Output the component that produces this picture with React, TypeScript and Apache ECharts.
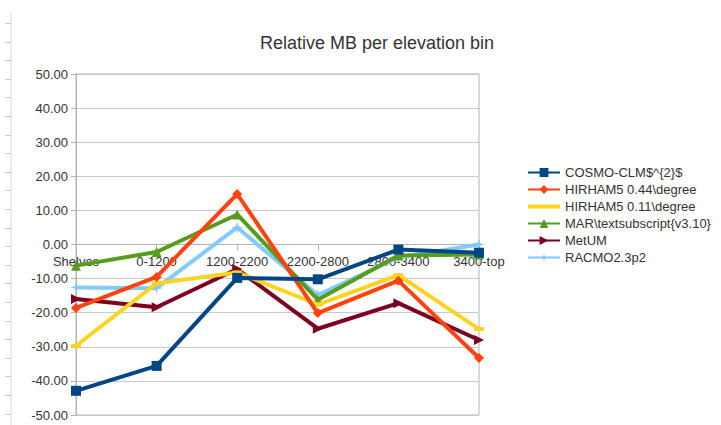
import React, { useEffect, useRef } from "react";
import * as echarts from "echarts";

const categories = ["Shelves", "0-1200", "1200-2200", "2200-2800", "2800-3400", "3400-top"];
const seriesNames = [
  "COSMO-CLM$^{2}$",
  "HIRHAM5 0.44\\degree",
  "HIRHAM5 0.11\\degree",
  "MAR\\textsubscript{v3.10}",
  "MetUM",
  "RACMO2.3p2",
];
const cosmo = [-42.9, -35.6, -9.8, -10.2, -1.5, -2.4];
const hirham044 = [-18.6, -9.5, 14.8, -20.1, -10.6, -33.3];
const hirham011 = [-29.7, -11.4, -8.2, -17.6, -9.0, -24.8];
const mar = [-6.2, -2.2, 8.8, -16.2, -3.2, -2.9];
const metum = [-16.0, -18.4, -7.2, -24.7, -17.2, -28.0];
const racmo = [-12.6, -12.8, 5.0, -14.8, -3.8, 0.0];
const yTicks = { min: -50, max: 50, interval: 10 };

const colors = ["#004586", "#ff420e", "#ffd320", "#579d1c", "#7e0021", "#83caff"];
const starPath = "path://M5,0 L6,4 L10,5 L6,6 L5,10 L4,6 L0,5 L4,4 Z";

export default function App() {
  const ref = useRef<HTMLDivElement>(null);
  useEffect(() => {
    document.body.style.margin = "0";
    const chart = echarts.init(ref.current!, null, { renderer: "svg" });
    const values = [cosmo, hirham044, hirham011, mar, metum, racmo];
    const symbols: any[] = ["rect", "diamond", "rect", "triangle", "triangle", starPath];
    const sizes: any[] = [10, 10, [10, 4], 10, 10, 12];
    const rot = [0, 0, 0, 0, -90, 0];
    const gridTop = 74;
    const gridBottom = 10;
    const gridHeight = 425 - gridTop - gridBottom;
    // place the category axis on the zero value line
    const zeroFrac = (0 - yTicks.min) / (yTicks.max - yTicks.min);
    const xOffset = -gridHeight * zeroFrac;
    const ruler: any[] = [
      { type: "line", shape: { x1: 11, y1: 12, x2: 11, y2: 425 }, style: { stroke: "#d8dae6", lineWidth: 1 } },
    ];
    for (let y = 23; y < 425; y += 18.6) {
      ruler.push({
        type: "line",
        shape: { x1: 5, y1: Math.round(y) + 0.5, x2: 11, y2: Math.round(y) + 0.5 },
        style: { stroke: "#c8cad6", lineWidth: 1 },
      });
    }
    const legendData = seriesNames.map((name, i) =>
      i === 2 ? { name, icon: "path://M0,0 L32,0 L32,4 L0,4 Z" } : { name }
    );
    chart.setOption({
      animation: false,
      textStyle: { fontFamily: "Liberation Sans" },
      title: {
        text: "Relative MB per elevation bin",
        left: 372,
        textAlign: "center",
        top: 29,
        textStyle: { fontSize: 18, fontWeight: "normal", color: "#333333", fontFamily: "Liberation Sans" },
      },
      graphic: ruler,
      legend: {
        orient: "vertical",
        left: 522,
        top: 161,
        itemWidth: 32,
        itemHeight: 11,
        itemGap: 4,
        data: legendData,
        textStyle: { fontSize: 13, color: "#333333", fontFamily: "Liberation Sans" },
      },
      grid: {
        left: 76,
        right: 242,
        top: gridTop,
        bottom: gridBottom,
        show: true,
        borderColor: "#b3b3b3",
        borderWidth: 1,
      },
      xAxis: {
        type: "category",
        data: categories,
        boundaryGap: false,
        offset: xOffset,
        axisLine: { onZero: false, lineStyle: { color: "#b3b3b3", width: 1 } },
        axisTick: { show: true, inside: false, length: 6, lineStyle: { color: "#b3b3b3" } },
        axisLabel: { color: "#333333", fontSize: 13, margin: 10, interval: 0 },
        splitLine: { show: false },
      },
      yAxis: {
        type: "value",
        min: yTicks.min,
        max: yTicks.max,
        interval: yTicks.interval,
        axisLine: { show: true, lineStyle: { color: "#b3b3b3" } },
        axisTick: { show: true, length: 5, lineStyle: { color: "#b3b3b3" } },
        axisLabel: {
          color: "#333333",
          fontSize: 13,
          margin: 8,
          formatter: (v: number) => v.toFixed(2),
        },
        splitLine: { show: true, lineStyle: { color: "#c8c8c8", width: 1 } },
      },
      series: seriesNames.map((name, i) => ({
        name,
        type: "line",
        data: values[i],
        color: colors[i],
        symbol: symbols[i],
        symbolSize: sizes[i],
        symbolRotate: rot[i],
        showAllSymbol: true,
        lineStyle: { width: 4, color: colors[i] },
        itemStyle: { color: colors[i] },
        z: 10 - i,
      })),
    });
    return () => chart.dispose();
  }, []);
  return <div ref={ref} style={{ width: 721, height: 425 }} />;
}
